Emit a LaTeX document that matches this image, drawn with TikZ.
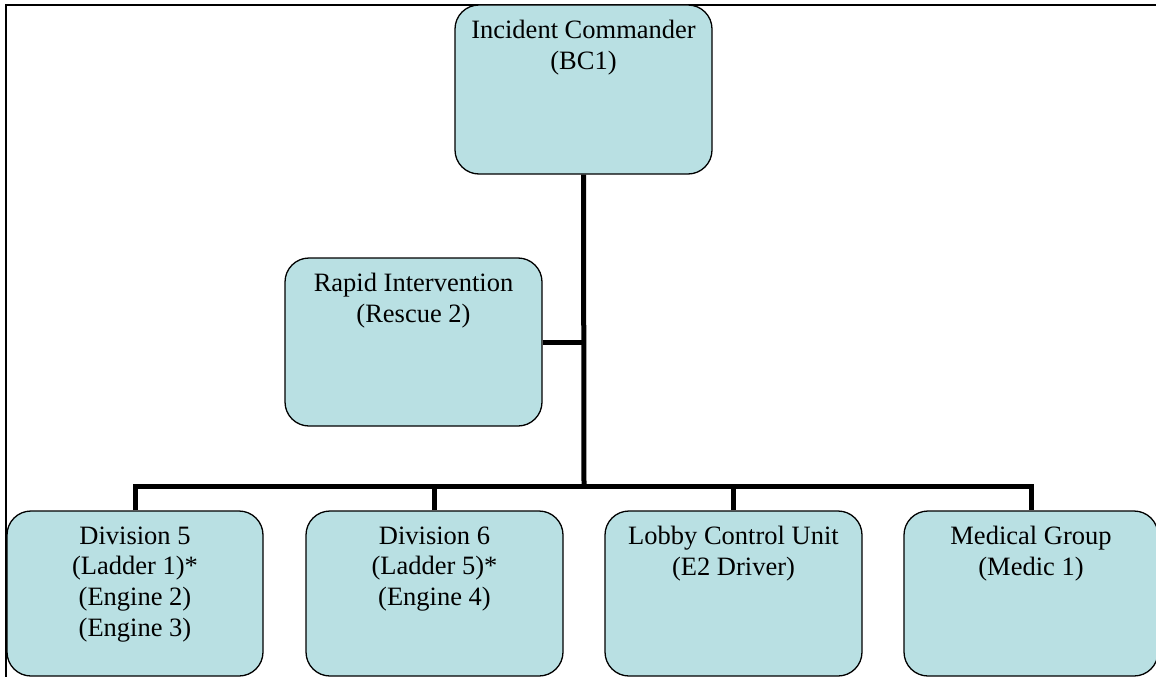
\documentclass[tikz,border=0pt]{standalone}
\usepackage{fontspec}
\setmainfont{Liberation Serif}
\usetikzlibrary{positioning}
\definecolor{unitfill}{RGB}{185,224,227}
\tikzset{
    unit/.style={draw, line width=1.3pt, fill=unitfill, rounded corners=24pt,
        minimum width=257pt, inner sep=0pt},
    unittext/.style={align=center, inner sep=0pt, font=\fontsize{26.5}{30.7}\selectfont},
    link/.style={line width=5pt}
}
\begin{document}
\begin{tikzpicture}[x=1pt,y=-1pt]
            \useasboundingbox (0,0) rectangle (1156,677);
            \draw[line width=2pt] (1156,5) -- (6,5) -- (6,677);

            \node[unit, minimum height=169pt] (ic) at (583.5,89.5) {};
            \node[unit, minimum height=168pt] (ri) at (413.5,342) {};
            \node[unit, minimum height=165pt, minimum width=256pt] (d5) at (135,593.5) {};
            \node[unit, minimum height=165pt] (d6) at (434.5,593.5) {};
            \node[unit, minimum height=165pt] (lcu) at (733.5,593.5) {};
            \node[unit, minimum height=165pt, minimum width=254pt] (mg) at (1031,593.5) {};

            \node[unittext, below=16pt of ic.north] (ic-t) {Incident Commander\\(BC1)};
            \node[unittext, below=16pt of ri.north] (ri-t) {Rapid Intervention\\(Rescue 2)};
            \node[unittext, below=16pt of d5.north] (d5-t) {Division 5\\(Ladder 1)*\\(Engine 2)\\(Engine 3)};
            \node[unittext, below=16pt of d6.north] (d6-t) {Division 6\\(Ladder 5)*\\(Engine 4)};
            \node[unittext, below=16pt of lcu.north] (lcu-t) {Lobby Control Unit\\(E2 Driver)};
            \node[unittext, below=16pt of mg.north] (mg-t) {Medical Group\\(Medic 1)};

            \coordinate (bus) at (584,486);
            \draw[link] (ic.south) -- (bus);
            \draw[link] (ri.east) -- (ri.east -| ic.south);
            \draw[link] (d5.north) |- (bus) -| (mg.north);
            \draw[link] (d6.north) -- (d6.north |- bus);
            \draw[link] (lcu.north) -- (lcu.north |- bus);
\end{tikzpicture}
\end{document}
